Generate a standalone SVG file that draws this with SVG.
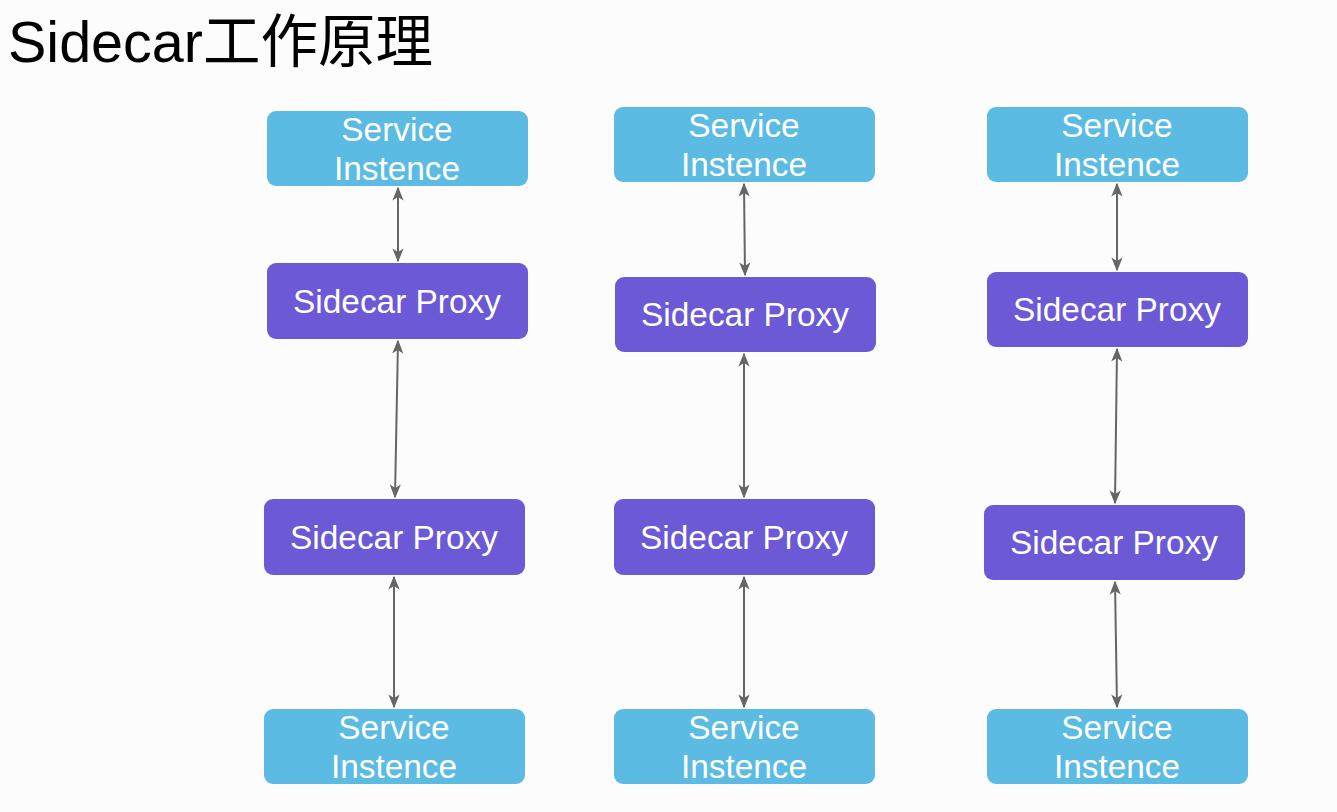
<svg xmlns="http://www.w3.org/2000/svg" width="1337" height="812" viewBox="0 0 1337 812">
<defs>
<style>
.si{fill:#5bbbe3}
.sp{fill:#6b59d6}
.t{font-family:"Liberation Sans",Arial,sans-serif;font-size:33.4px;fill:#ffffff;text-anchor:middle}
.c{stroke:#666666;stroke-width:2;fill:none;marker-start:url(#a);marker-end:url(#a)}
</style>
<marker id="a" viewBox="0 0 10 10" refX="9" refY="5" markerWidth="14" markerHeight="14" markerUnits="userSpaceOnUse" orient="auto-start-reverse">
<path d="M0,1 L10,5 L0,9 L2.5,5 Z" fill="#666666"/>
</marker>
</defs>
<rect width="1337" height="812" fill="#fcfcfc"/>
<text x="8" y="62" font-family="'Liberation Sans','Noto Sans CJK SC',sans-serif" font-size="57.5" fill="#000">Sidecar工作原理</text>
<g id="connectors">
<line class="c" x1="398" y1="188" x2="398" y2="261"/>
<line class="c" x1="398" y1="341" x2="395" y2="497"/>
<line class="c" x1="394" y1="577" x2="394" y2="707"/>
<line class="c" x1="744" y1="184" x2="745" y2="275"/>
<line class="c" x1="744" y1="354" x2="744" y2="497"/>
<line class="c" x1="744" y1="577" x2="744" y2="707"/>
<line class="c" x1="1117" y1="184" x2="1117" y2="270"/>
<line class="c" x1="1117" y1="349" x2="1115" y2="503"/>
<line class="c" x1="1115" y1="582" x2="1117" y2="707"/>
</g>
<g id="si1a"><rect class="si" x="267" y="111" width="261" height="75" rx="9"/><text class="t" x="397" y="141">Service</text><text class="t" x="397" y="180">Instence</text></g>
<g id="sp1a"><rect class="sp" x="267" y="263" width="261" height="76" rx="9"/><text class="t" x="397" y="313">Sidecar Proxy</text></g>
<g id="sp1b"><rect class="sp" x="264" y="499" width="261" height="76" rx="9"/><text class="t" x="394" y="549">Sidecar Proxy</text></g>
<g id="si1b"><rect class="si" x="264" y="709" width="261" height="75" rx="9"/><text class="t" x="394" y="739">Service</text><text class="t" x="394" y="778">Instence</text></g>
<g id="si2a"><rect class="si" x="614" y="107" width="261" height="75" rx="9"/><text class="t" x="744" y="137">Service</text><text class="t" x="744" y="176">Instence</text></g>
<g id="sp2a"><rect class="sp" x="615" y="277" width="261" height="75" rx="9"/><text class="t" x="745" y="326">Sidecar Proxy</text></g>
<g id="sp2b"><rect class="sp" x="614" y="499" width="261" height="76" rx="9"/><text class="t" x="744" y="549">Sidecar Proxy</text></g>
<g id="si2b"><rect class="si" x="614" y="709" width="261" height="75" rx="9"/><text class="t" x="744" y="739">Service</text><text class="t" x="744" y="778">Instence</text></g>
<g id="si3a"><rect class="si" x="987" y="107" width="261" height="75" rx="9"/><text class="t" x="1117" y="137">Service</text><text class="t" x="1117" y="176">Instence</text></g>
<g id="sp3a"><rect class="sp" x="987" y="272" width="261" height="75" rx="9"/><text class="t" x="1117" y="321">Sidecar Proxy</text></g>
<g id="sp3b"><rect class="sp" x="984" y="505" width="261" height="75" rx="9"/><text class="t" x="1114" y="554">Sidecar Proxy</text></g>
<g id="si3b"><rect class="si" x="987" y="709" width="261" height="75" rx="9"/><text class="t" x="1117" y="739">Service</text><text class="t" x="1117" y="778">Instence</text></g>
</svg>
